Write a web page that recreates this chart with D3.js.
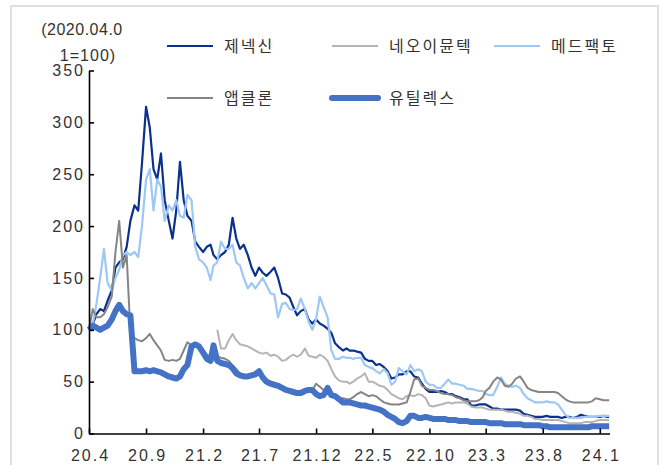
<!DOCTYPE html>
<html>
<head>
<meta charset="utf-8">
<script src="https://cdn.jsdelivr.net/npm/d3@7"></script>
<style>
body{margin:0;background:#fff;}
text{font-family:"Liberation Sans",Arial,"Noto Sans CJK KR",sans-serif;}
</style>
</head>
<body>
<div id="chart"></div>
<script>
var w=665, h=465

// dates (1st, 11th, 21st of each month)
var dates=["2020-04-01","2020-04-11","2020-04-21","2020-05-01","2020-05-11","2020-05-21","2020-06-01","2020-06-11","2020-06-21",
"2020-07-01","2020-07-11","2020-07-21","2020-08-01","2020-08-11","2020-08-21","2020-09-01","2020-09-11","2020-09-21",
"2020-10-01","2020-10-11","2020-10-21","2020-11-01","2020-11-11","2020-11-21","2020-12-01","2020-12-11","2020-12-21",
"2021-01-01","2021-01-11","2021-01-21","2021-02-01","2021-02-11","2021-02-21","2021-03-01","2021-03-11","2021-03-21",
"2021-04-01","2021-04-11","2021-04-21","2021-05-01","2021-05-11","2021-05-21","2021-06-01","2021-06-11","2021-06-21",
"2021-07-01","2021-07-11","2021-07-21","2021-08-01","2021-08-11","2021-08-21","2021-09-01","2021-09-11","2021-09-21",
"2021-10-01","2021-10-11","2021-10-21","2021-11-01","2021-11-11","2021-11-21","2021-12-01","2021-12-11","2021-12-21",
"2022-01-01","2022-01-11","2022-01-21","2022-02-01","2022-02-11","2022-02-21","2022-03-01","2022-03-11","2022-03-21",
"2022-04-01","2022-04-11","2022-04-21","2022-05-01","2022-05-11","2022-05-21","2022-06-01","2022-06-11","2022-06-21",
"2022-07-01","2022-07-11","2022-07-21","2022-08-01","2022-08-11","2022-08-21","2022-09-01","2022-09-11","2022-09-21",
"2022-10-01","2022-10-11","2022-10-21","2022-11-01","2022-11-11","2022-11-21","2022-12-01","2022-12-11","2022-12-21",
"2023-01-01","2023-01-11","2023-01-21","2023-02-01","2023-02-11","2023-02-21","2023-03-01","2023-03-11","2023-03-21",
"2023-04-01","2023-04-11","2023-04-21","2023-05-01","2023-05-11","2023-05-21","2023-06-01","2023-06-11","2023-06-21",
"2023-07-01","2023-07-11","2023-07-21","2023-08-01","2023-08-11","2023-08-21","2023-09-01","2023-09-11","2023-09-21",
"2023-10-01","2023-10-11","2023-10-21","2023-11-01","2023-11-11","2023-11-21","2023-12-01","2023-12-11","2023-12-21",
"2024-01-01","2024-01-11","2024-01-21","2024-01-26"];

// 제넥신
var genexine=[100,105,115,120,118,128,138,160,165,168,180,205,220,215,260,315,295,255,245,270,225,205,188,215,262,225,210,
205,185,180,175,180,182,172,168,172,175,182,208,188,178,182,172,160,152,160,155,152,156,160,150,135,134,131,122,114,118,120,110,106,110,106,104,
101,97,87,83,80,82,80,80,79,78,72,70,70,66,67,64,60,53,54,57,57,60,60,55,54,48,43,40,40,40,41,40,38,38,36,35,
33,33,27,27,28,28,28,26,24,24,23,23,23,23,23,22,19,18,17,16,16,16,17,16,16,16,15,16,16,15,16,18,17,16,16,16,
16,17,16,16];

// 네오이뮨텍 (listed 2021.3)
var neoimmune=[null,null,null,null,null,null,null,null,null,null,null,null,null,null,null,null,null,null,null,null,null,null,null,null,null,null,null,
null,null,null,null,null,null,null,100,82,82,90,96,90,86,85,84,82,80,78,77,78,75,76,74,70,71,74,76,74,76,82,75,74,73,76,74,
70,62,55,51,50,50,48,50,53,55,58,50,50,48,46,45,42,38,36,34,33,36,37,36,38,37,34,27,26,27,28,29,30,29,30,30,
30,29,26,25,25,25,24,23,23,23,23,22,21,21,20,19,17,17,16,14,14,13,13,13,13,13,12,11,10,10,10,10,11,11,11,12,
13,13,13,13];

// 메드팩토
var medpacto=[100,105,125,150,178,145,138,150,158,172,175,172,175,170,200,245,255,215,245,238,205,220,215,225,210,208,230,
225,180,168,165,160,148,162,165,185,178,178,182,165,162,150,140,145,140,145,150,143,135,134,112,125,126,120,119,120,130,120,108,100,110,132,122,
112,80,72,72,74,73,73,72,73,73,66,64,63,60,58,62,58,47,50,63,60,57,66,60,62,60,50,47,47,44,44,48,52,48,48,47,
46,43,43,42,41,41,38,37,37,45,54,48,46,45,46,44,38,34,32,30,30,30,31,30,30,28,23,18,15,15,15,15,16,16,16,16,
17,17,17,17];

// 앱클론
var abclon=[100,120,112,112,115,122,132,175,205,160,172,98,92,90,89,92,96,90,85,80,71,70,71,70,72,80,88,
85,84,83,80,76,74,75,74,73,72,70,66,62,58,57,56,56,57,58,54,52,50,48,46,44,43,42,40,40,41,41,42,42,48,45,42,
40,38,36,34,34,33,33,35,38,40,38,36,37,36,33,30,29,28,28,28,29,30,40,52,53,46,44,42,42,41,39,38,38,37,35,34,
32,31,31,31,32,35,41,44,50,54,52,46,45,48,53,55,50,44,42,41,40,40,40,40,40,39,36,33,31,30,30,30,30,30,31,34,
33,32,32,32];

// 유틸렉스
var eutilex=[100,104,102,100,102,104,110,118,124,118,115,114,60,60,60,61,60,61,60,59,57,55,54,53,55,62,66,
84,86,84,78,72,70,85,70,68,67,66,63,58,56,55,55,56,57,60,54,50,48,47,46,44,42,41,40,39,39,41,42,42,38,36,37,
44,37,36,33,30,30,30,29,28,27,27,26,25,24,23,21,18,16,14,11,10,12,17,17,15,15,16,15,14,14,14,14,13,13,13,12,
12,12,11,11,11,11,11,10,10,10,10,9,9,9,9,9,8,8,8,8,8,7,7,6,6,6,6,6,6,6,6,6,6,6,7,7,
7,7,7,7];

var seriesNames=["제넥신","네오이뮨텍","메드팩토","앱클론","유틸렉스"];
var seriesData=[genexine,neoimmune,medpacto,abclon,eutilex];
var seriesColors=["#0b318f","#b4b4b4","#9dc8f5","#858585","#4472c4"];
var seriesWidths=[2.2,2,2.2,2,6];

var tickDates=["2020-04-01","2020-09-01","2021-02-01","2021-07-01","2021-12-01","2022-05-01","2022-10-01","2023-03-01","2023-08-01","2024-01-01"];
var tickLabels=["20.4","20.9","21.2","21.7","21.12","22.5","22.10","23.3","23.8","24.1"];
var yTicks=[0,50,100,150,200,250,300,350];

var parse=d3.timeParse("%Y-%m-%d");

var svg=d3.select("#chart")
.append("svg")
.attr("width",w)
.attr("height",h);

// outer frame
svg.append("rect")
.attr("x",11).attr("y",6)
.attr("width",647).attr("height",470)
.attr("fill","#fff")
.attr("stroke","#e0e0e0")
.attr("stroke-width",2);

var x=d3.scaleTime()
.domain([parse("2020-04-01"),parse("2024-01-27")])
.range([89,609.5]);

var y=d3.scaleLinear()
.domain([0,350])
.range([433.5,70.5]);

// lines
var line=d3.line()
.defined(function(d){return d[1]!=null;})
.x(function(d){return x(d[0]);})
.y(function(d){return y(d[1]);});

seriesData.forEach(function(vals,i){
	svg.append("path")
	.datum(vals.map(function(v,j){return [parse(dates[j]),v];}))
	.attr("fill","none")
	.attr("stroke",seriesColors[i])
	.attr("stroke-width",seriesWidths[i])
	.attr("stroke-linejoin","round")
	.attr("d",line);
});

// axes
var xAxis=svg.append("g")
.attr("transform","translate(0,433.5)")
.call(d3.axisBottom(x)
	.tickValues(tickDates.map(parse))
	.tickFormat(function(d,i){return tickLabels[i];})
	.tickSizeInner(-5).tickSizeOuter(0).tickPadding(16));

var yAxis=svg.append("g")
.attr("transform","translate(89,0)")
.call(d3.axisLeft(y)
	.tickValues(yTicks)
	.tickSizeInner(-5).tickSizeOuter(0).tickPadding(4));

svg.selectAll(".domain").attr("stroke","#000").attr("stroke-width",1.6);
svg.selectAll(".tick line").attr("stroke","#000").attr("stroke-width",1.6);
svg.selectAll(".tick text")
.attr("fill","#333")
.style("font-size","16px")
.style("letter-spacing","2px")
.style("font-family","'Liberation Sans',Arial,sans-serif");
xAxis.selectAll(".tick text").attr("dx","1px");

// unit label
svg.append("text")
.attr("x",82).attr("y",35)
.attr("text-anchor","middle")
.attr("fill","#333")
.style("font-size","16px")
.style("letter-spacing","0.5px")
.text("(2020.04.0");
svg.append("text")
.attr("x",88).attr("y",61)
.attr("text-anchor","middle")
.attr("fill","#333")
.style("font-size","16px")
.style("letter-spacing","1px")
.text("1=100)");

// legend
var legX=[167,332,494], legY=[46,98];
seriesNames.forEach(function(name,i){
	var lx=legX[i%3], ly=legY[Math.floor(i/3)];
	svg.append("line")
	.attr("x1",lx).attr("x2",lx+46)
	.attr("y1",ly).attr("y2",ly)
	.attr("stroke",seriesColors[i])
	.attr("stroke-width",i==4?6:2.2)
	.attr("stroke-linecap",i==4?"round":"butt");
	svg.append("text")
	.attr("x",lx+57).attr("y",ly+6)
	.attr("fill","#333")
	.style("font-size","16px")
	.style("font-family","'Noto Sans CJK KR',sans-serif")
	.style("letter-spacing","2px")
	.text(name);
});
</script>
</body>
</html>
